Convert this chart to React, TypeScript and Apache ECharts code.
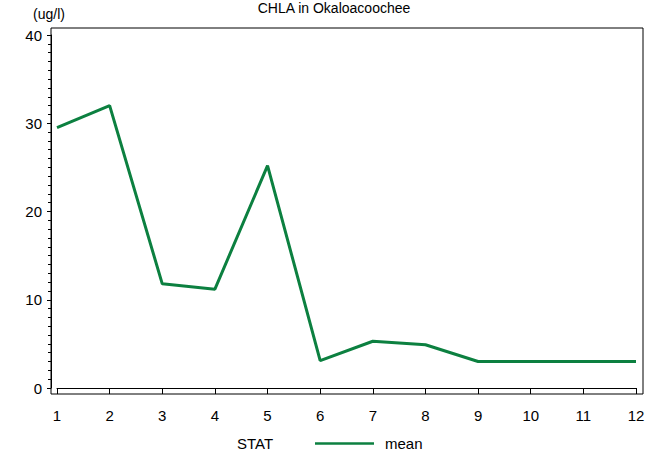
import React, { useEffect, useRef } from "react";
import * as echarts from "echarts";

const months = [1, 2, 3, 4, 5, 6, 7, 8, 9, 10, 11, 12];
const meanValues = [29.5, 32.0, 11.8, 11.2, 25.2, 3.1, 5.3, 4.9, 3.0, 3.0, 3.0, 3.0];
const yTicks = [0, 10, 20, 30, 40];
const FONT = "Liberation Sans, Arial, sans-serif";
const GREEN = "#0c8040";

export default function App() {
  const ref = useRef<HTMLDivElement>(null);
  useEffect(() => {
    if (!ref.current) return;
    const chart = echarts.init(ref.current, null, { renderer: "svg" });
    chart.setOption({
      animation: false,
      backgroundColor: "#ffffff",
      textStyle: { fontFamily: FONT },
      grid: { left: 57, right: 14, top: 35, bottom: 69, containLabel: false },
      xAxis: {
        type: "value",
        min: 1,
        max: 12,
        interval: 1,
        offset: 6,
        axisLine: { show: true, lineStyle: { color: "#000", width: 1 } },
        axisTick: { show: true, length: 6, lineStyle: { color: "#000" } },
        axisLabel: { color: "#000", fontSize: 15, fontFamily: FONT, margin: 14 },
        splitLine: { show: false },
      },
      yAxis: {
        type: "value",
        min: 0,
        max: 40,
        interval: 10,
        offset: 6,
        axisLine: { show: true, lineStyle: { color: "#000", width: 1 } },
        axisTick: { show: true, length: 4, lineStyle: { color: "#000" } },
        minorTick: { show: true, splitNumber: 10, length: 3, lineStyle: { color: "#000" } },
        axisLabel: {
          color: "#000",
          fontSize: 15,
          fontFamily: FONT,
          margin: 9,
          formatter: (v: number) => (yTicks.includes(v) ? String(v) : ""),
        },
        splitLine: { show: false },
      },
      graphic: [
        {
          type: "rect",
          shape: { x: 51, y: 28, width: 592, height: 366 },
          style: { fill: "none", stroke: "#000", lineWidth: 1 },
          silent: true,
        },
        {
          type: "text",
          x: 334,
          y: 1,
          style: { text: "CHLA in Okaloacoochee", fontSize: 14, fontFamily: FONT, fill: "#000", align: "center", verticalAlign: "top" },
        },
        {
          type: "text",
          x: 49,
          y: 14,
          style: { text: "(ug/l)", fontSize: 14, fontFamily: FONT, fill: "#000", align: "center", verticalAlign: "middle" },
        },
        {
          type: "text",
          x: 255,
          y: 443,
          style: { text: "STAT", fontSize: 15, fontFamily: FONT, fill: "#000", align: "center", verticalAlign: "middle" },
        },
      ],
      legend: {
        show: true,
        left: 310,
        top: 431,
        itemWidth: 59,
        itemHeight: 14,
        itemGap: 10,
        textStyle: { fontSize: 15, fontFamily: FONT, color: "#000", padding: [0, 0, 0, 6] },
        data: [{ name: "mean", icon: "path://M0,5.8 L59,5.8 L59,8.2 L0,8.2 Z", itemStyle: { color: GREEN } }],
      },
      series: [
        {
          name: "mean",
          type: "line",
          data: months.map((m, i) => [m, meanValues[i]]),
          showSymbol: false,
          symbol: "none",
          lineStyle: { color: GREEN, width: 3 },
          itemStyle: { color: GREEN },
        },
      ],
    });
    return () => chart.dispose();
  }, []);
  return <div ref={ref} style={{ width: 650, height: 457, position: "absolute", left: 0, top: 0 }} />;
}
